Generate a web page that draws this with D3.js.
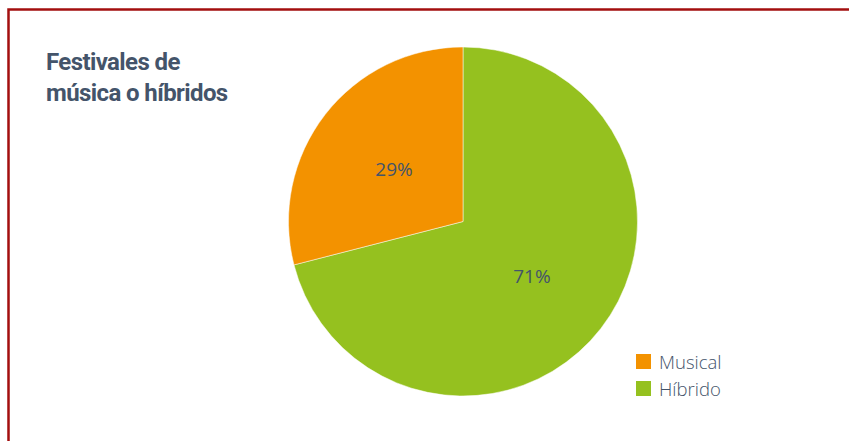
<!DOCTYPE html>
<html><head><meta charset="utf-8">
<script src="https://cdn.jsdelivr.net/npm/d3@7"></script>
<style>
html,body{margin:0;padding:0;background:#fff;overflow:hidden}
svg{display:block}
</style></head>
<body>
<script>
const categories = ["Musical", "Híbrido"];
const values = [29, 71];
const colors = ["#f39200", "#95c11f"];
const titleLines = ["Festivales de", "música o híbridos"];

const W = 849, H = 441;
const svg = d3.select("body").append("svg").attr("width", W).attr("height", H);

svg.append("rect").attr("x", 8.5).attr("y", 9.5).attr("width", 860).attr("height", 460)
  .attr("fill", "none").attr("stroke", "#a30f0f").attr("stroke-width", 2.5);

const title = svg.append("text").attr("x", 46).attr("y", 70)
  .attr("font-family", "Roboto, 'Open Sans', sans-serif").attr("font-weight", 700)
  .attr("font-size", 24).attr("fill", "#44546a").attr("letter-spacing", -0.6);
titleLines.forEach((t, i) => title.append("tspan").attr("x", 46).attr("y", 70 + i * 31).text(t));

const cx = 463, cy = 221.5, r = 174.5;
const total = d3.sum(values);
// Híbrido clockwise from top, Musical fills the rest
const pie = d3.pie().sort(null).value(d => d.v);
const data = [{c: categories[1], v: values[1], col: colors[1]}, {c: categories[0], v: values[0], col: colors[0]}];
const arcs = pie(data);
const arc = d3.arc().innerRadius(0).outerRadius(r);
const labelArc = d3.arc().innerRadius(r * 0.5).outerRadius(r * 0.5);

const g = svg.append("g").attr("transform", `translate(${cx},${cy})`);
g.selectAll("path").data(arcs).join("path")
  .attr("d", arc).attr("fill", d => d.data.col)
  .attr("stroke", "#fff").attr("stroke-width", 0.5);

g.selectAll("text").data(arcs).join("text")
  .attr("transform", d => `translate(${labelArc.centroid(d)})`)
  .attr("text-anchor", "middle").attr("dy", "0.4em")
  .attr("font-family", "'Open Sans', sans-serif").attr("font-size", 19)
  .attr("fill", "#44546a")
  .text(d => Math.round(d.data.v / total * 100) + "%");

const leg = svg.append("g").attr("transform", "translate(636,354)");
categories.forEach((c, i) => {
  const row = leg.append("g").attr("transform", `translate(0,${i * 27})`);
  row.append("rect").attr("width", 15).attr("height", 15).attr("fill", colors[i]);
  row.append("text").attr("x", 23).attr("y", 14.5)
    .attr("font-family", "'Open Sans', sans-serif").attr("font-weight", 300)
    .attr("font-size", 18.5).attr("fill", "#44546a").text(c);
});
</script>
</body></html>
